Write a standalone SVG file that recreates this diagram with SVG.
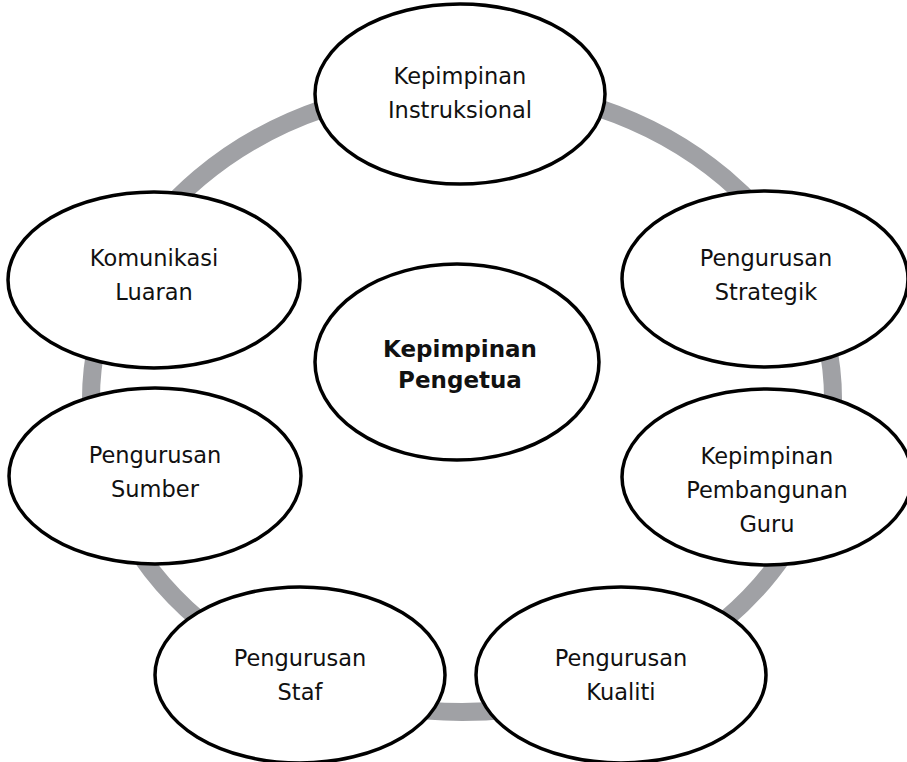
<svg xmlns="http://www.w3.org/2000/svg" width="907" height="762" viewBox="0 0 907 762">
<style>
.node{fill:#ffffff;stroke:#000000;stroke-width:3.5}
.ring{fill:none;stroke:#a0a1a5;stroke-width:18}
.t{font-family:"DejaVu Sans","Liberation Sans",sans-serif;font-size:22.5px;fill:#111111;text-anchor:middle}
.b{font-family:"DejaVu Sans","Liberation Sans",sans-serif;font-size:23px;font-weight:bold;fill:#111111;text-anchor:middle}
</style>
<rect width="907" height="762" fill="#ffffff"/>
<g id="connectors">
<ellipse class="ring" cx="462" cy="399" rx="371" ry="313"/>
</g>
<g id="node-instruksional">
<ellipse class="node" cx="460" cy="94" rx="145" ry="90"/>
<text class="t" x="460" y="84">Kepimpinan</text>
<text class="t" x="460" y="118">Instruksional</text>
</g>
<g id="node-strategik">
<ellipse class="node" cx="765" cy="279" rx="143" ry="88"/>
<text class="t" x="766" y="266">Pengurusan</text>
<text class="t" x="766" y="300">Strategik</text>
</g>
<g id="node-komunikasi">
<ellipse class="node" cx="154" cy="280" rx="146" ry="88"/>
<text class="t" x="154" y="266">Komunikasi</text>
<text class="t" x="154" y="300">Luaran</text>
</g>
<g id="node-pengetua">
<ellipse class="node" cx="457" cy="362" rx="142" ry="98"/>
<text class="b" x="460" y="357">Kepimpinan</text>
<text class="b" x="460" y="388">Pengetua</text>
</g>
<g id="node-sumber">
<ellipse class="node" cx="155" cy="476" rx="146" ry="88"/>
<text class="t" x="155" y="463">Pengurusan</text>
<text class="t" x="155" y="497">Sumber</text>
</g>
<g id="node-pembangunan">
<ellipse class="node" cx="767" cy="477" rx="145" ry="88"/>
<text class="t" x="767" y="464">Kepimpinan</text>
<text class="t" x="767" y="498">Pembangunan</text>
<text class="t" x="767" y="532">Guru</text>
</g>
<g id="node-staf">
<ellipse class="node" cx="300" cy="675" rx="145" ry="88"/>
<text class="t" x="300" y="666">Pengurusan</text>
<text class="t" x="300" y="700">Staf</text>
</g>
<g id="node-kualiti">
<ellipse class="node" cx="621" cy="675" rx="145" ry="88"/>
<text class="t" x="621" y="666">Pengurusan</text>
<text class="t" x="621" y="700">Kualiti</text>
</g>
</svg>
